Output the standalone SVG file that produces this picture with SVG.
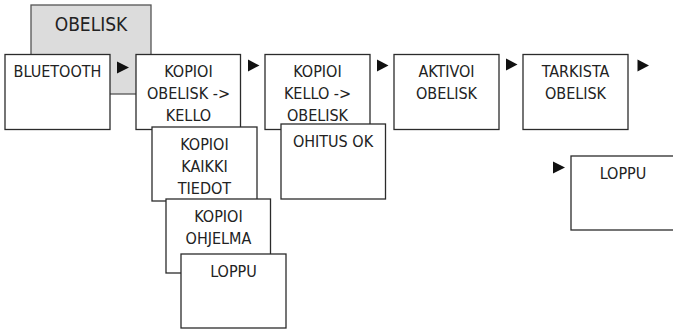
<svg xmlns="http://www.w3.org/2000/svg" width="673" height="333" viewBox="0 0 673 333">
<style>
.box{fill:#fff;stroke:#2b2b2b;stroke-width:1.3}
.grey{fill:#dcdcdc;stroke:#555;stroke-width:1.3}
text{font-family:"DejaVu Sans Condensed","DejaVu Sans",sans-serif;font-stretch:condensed;font-size:16px;fill:#222;text-anchor:middle}
.title{font-size:19px}
.arr{fill:#111}
</style>
<rect width="673" height="333" fill="#fff"/>
<g id="obelisk">
<rect class="grey" x="31" y="5" width="120" height="89"/>
<text class="title" x="91" y="30.5">OBELISK</text>
</g>
<g id="bluetooth">
<rect class="box" x="5" y="54.5" width="105" height="75"/>
<text x="57.5" y="77">BLUETOOTH</text>
</g>
<g id="kopioi-obelisk-kello">
<rect class="box" x="136" y="54.5" width="104.5" height="75"/>
<text x="188.5" y="77">KOPIOI</text>
<text x="188.5" y="99">OBELISK -&gt;</text>
<text x="188.5" y="121">KELLO</text>
</g>
<g id="kopioi-kaikki">
<rect class="box" x="152" y="127" width="105" height="74"/>
<text x="204.5" y="150">KOPIOI</text>
<text x="204.5" y="172">KAIKKI</text>
<text x="204.5" y="194">TIEDOT</text>
</g>
<g id="kopioi-ohjelma">
<rect class="box" x="166" y="199" width="104.5" height="74"/>
<text x="218.5" y="222">KOPIOI</text>
<text x="218.5" y="244">OHJELMA</text>
</g>
<g id="loppu1">
<rect class="box" x="181" y="254" width="105" height="74"/>
<text x="233.5" y="277">LOPPU</text>
</g>
<g id="kopioi-kello-obelisk">
<rect class="box" x="265" y="54.5" width="105" height="75"/>
<text x="317.5" y="77">KOPIOI</text>
<text x="317.5" y="99">KELLO -&gt;</text>
<text x="317.5" y="121">OBELISK</text>
</g>
<g id="ohitus">
<rect class="box" x="281" y="124" width="104.5" height="75"/>
<text x="333" y="147">OHITUS OK</text>
</g>
<g id="aktivoi">
<rect class="box" x="394" y="54.5" width="105" height="75"/>
<text x="446.5" y="77">AKTIVOI</text>
<text x="446.5" y="99">OBELISK</text>
</g>
<g id="tarkista">
<rect class="box" x="523" y="54.5" width="105" height="75"/>
<text x="575.5" y="77">TARKISTA</text>
<text x="575.5" y="99">OBELISK</text>
</g>
<g id="loppu2">
<rect class="box" x="571" y="156" width="105" height="74"/>
<text x="623" y="179">LOPPU</text>
</g>
<g id="connectors">
<polygon class="arr" points="117,61.5 129,67.5 117,73.5"/>
<polygon class="arr" points="248,59.5 259.5,65.5 248,71.5"/>
<polygon class="arr" points="377,59.5 388.5,65.5 377,71.5"/>
<polygon class="arr" points="506,58.5 517.5,64.5 506,70.5"/>
<polygon class="arr" points="637.5,59.5 649,65.5 637.5,71.5"/>
<polygon class="arr" points="553,161.5 565,167.5 553,173.5"/>
</g>
</svg>
